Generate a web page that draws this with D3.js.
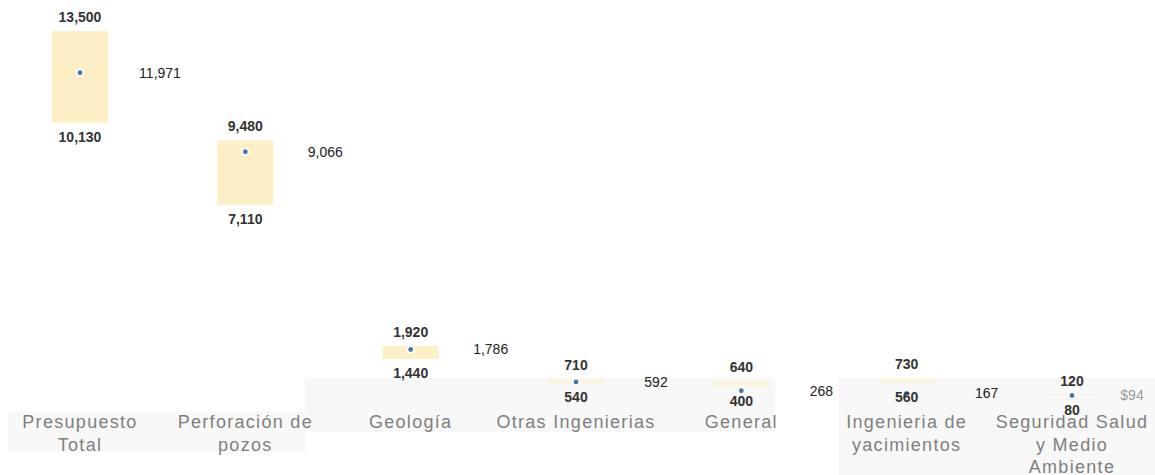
<!DOCTYPE html>
<html>
<head>
<meta charset="utf-8">
<script src="https://cdn.jsdelivr.net/npm/d3@7"></script>
<style>
  body { margin: 0; background: #fff; }
  svg { display: block; font-family: "Liberation Sans", Arial, sans-serif; }
</style>
</head>
<body>
<div id="chart"></div>
<script>
const categories = [
  "Presupuesto Total",
  "Perforación de pozos",
  "Geología",
  "Otras Ingenierias",
  "General",
  "Ingenieria de yacimientos",
  "Seguridad Salud y Medio Ambiente"
];
const maxValues = [13500, 9480, 1920, 710, 640, 730, 120];
const minValues = [10130, 7110, 1440, 540, 400, 560, 80];
const avgValues = [11971, 9066, 1786, 592, 268, 167, 94];
const avgLabels = ["11,971", "9,066", "1,786", "592", "268", "167", "$94"];

const data = categories.map((c, i) => ({
  cat: c,
  max: maxValues[i],
  min: minValues[i],
  avg: avgValues[i],
  avgLabel: avgLabels[i]
}));

const width = 1155;
const height = 475;

const svg = d3
  .select("#chart")
  .append("svg")
  .attr("width", width)
  .attr("height", height);

// faint background panels behind the labels
const panels = [
  { x: 8, y: 411, w: 297, h: 41 },
  { x: 305, y: 378, w: 470, h: 54 },
  { x: 838, y: 378, w: 317, h: 97 }
];
svg
  .selectAll(".panel")
  .data(panels)
  .enter()
  .append("rect")
  .attr("x", (d) => d.x)
  .attr("y", (d) => d.y)
  .attr("width", (d) => d.w)
  .attr("height", (d) => d.h)
  .attr("fill", "#f8f8f8");

const xScale = d3.scalePoint().domain(categories).range([80, 1072]);

const yScale = d3.scaleLinear().domain([0, 14650]).range([398, 0]);

const fmt = d3.format(",");
const barWidth = 56;

// range bars
svg
  .selectAll(".bar")
  .data(data)
  .enter()
  .append("rect")
  .attr("x", (d) => xScale(d.cat) - barWidth / 2)
  .attr("y", (d) => yScale(d.max))
  .attr("width", barWidth)
  .attr("height", (d) => yScale(d.min) - yScale(d.max))
  .attr("fill", "#fdf0c6")
  .attr("opacity", (d) => (d.max < 1000 ? 0.5 : 1));

// dots
svg
  .selectAll(".dot")
  .data(data)
  .enter()
  .append("circle")
  .attr("cx", (d) => xScale(d.cat))
  .attr("cy", (d) => yScale(d.avg))
  .attr("r", 3.2)
  .attr("fill", "#4a76a8")
  .attr("stroke", "#fff")
  .attr("stroke-width", 1.5);

// max labels
svg
  .selectAll(".maxLabel")
  .data(data)
  .enter()
  .append("text")
  .attr("x", (d) => xScale(d.cat))
  .attr("y", (d) => yScale(d.max) - 14)
  .attr("dy", "0.35em")
  .attr("text-anchor", "middle")
  .attr("font-size", "14px")
  .attr("font-weight", "bold")
  .attr("fill", "#333")
  .text((d) => fmt(d.max));

// min labels
svg
  .selectAll(".minLabel")
  .data(data)
  .enter()
  .append("text")
  .attr("x", (d) => xScale(d.cat))
  .attr("y", (d) => yScale(d.min) + 14)
  .attr("dy", "0.35em")
  .attr("text-anchor", "middle")
  .attr("font-size", "14px")
  .attr("font-weight", "bold")
  .attr("fill", "#333")
  .text((d) => fmt(d.min));

// average labels to the right
svg
  .selectAll(".avgLabel")
  .data(data)
  .enter()
  .append("text")
  .attr("x", (d) => Math.min(xScale(d.cat) + 80, width - 23))
  .attr("y", (d) => yScale(d.avg))
  .attr("dy", "0.35em")
  .attr("text-anchor", "middle")
  .attr("font-size", "14px")
  .attr("fill", (d) => (d.avgLabel.startsWith("$") ? "#999" : "#222"))
  .text((d) => d.avgLabel);

// category labels, wrapped
const catLabels = svg
  .selectAll(".catLabel")
  .data(categories)
  .enter()
  .append("text")
  .attr("x", (d) => xScale(d))
  .attr("y", 428)
  .attr("text-anchor", "middle")
  .attr("font-size", "18px")
  .attr("letter-spacing", "1.3px")
  .attr("fill", "#7f7f7f")
  .text((d) => d);

catLabels.call(wrap, 161);

function wrap(texts, maxWidth) {
  texts.each(function () {
    const text = d3.select(this);
    const words = text.text().split(/\s+/);
    const x = text.attr("x");
    const y = text.attr("y");
    text.text(null);
    let line = [];
    let lineNo = 0;
    let tspan = text.append("tspan").attr("x", x).attr("y", y);
    words.forEach((w) => {
      line.push(w);
      tspan.text(line.join(" "));
      if (tspan.node().getComputedTextLength() > maxWidth && line.length > 1) {
        line.pop();
        tspan.text(line.join(" "));
        line = [w];
        lineNo++;
        tspan = text
          .append("tspan")
          .attr("x", x)
          .attr("y", +y + lineNo * 22.5)
          .text(w);
      }
    });
  });
}
</script>
</body>
</html>
